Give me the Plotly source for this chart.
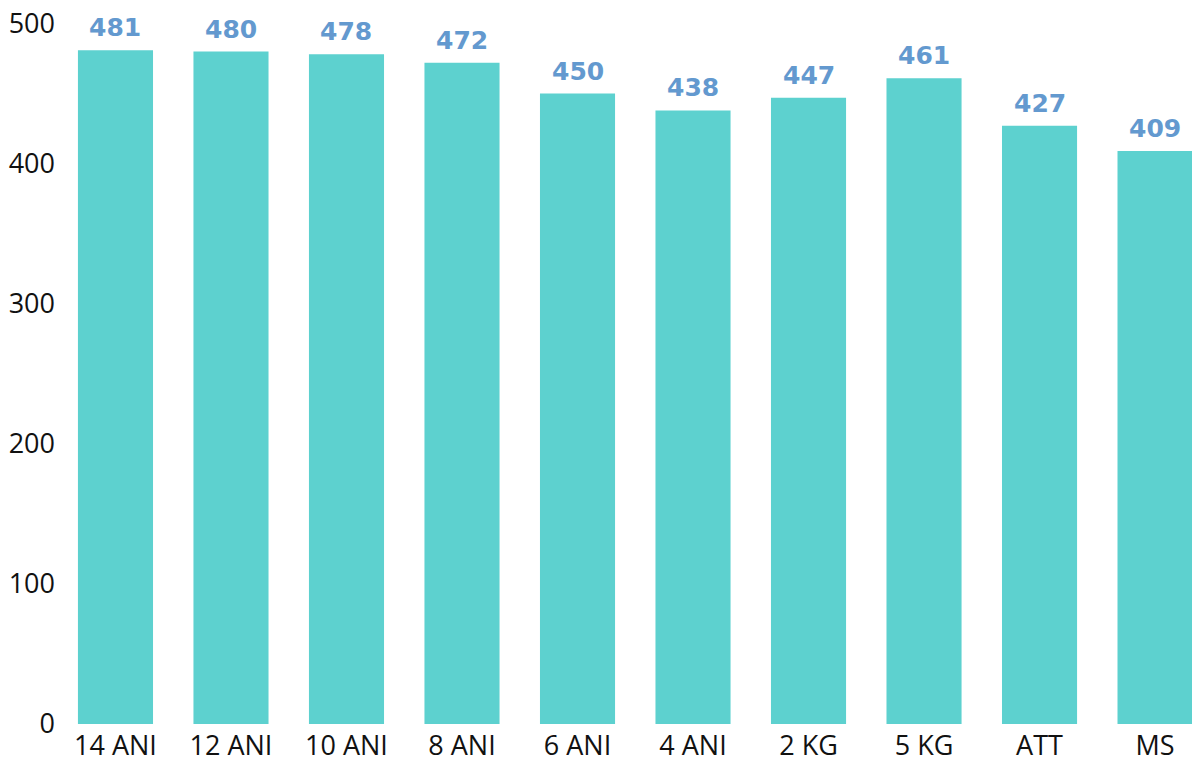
import plotly.graph_objects as go

categories = ["14 ANI", "12 ANI", "10 ANI", "8 ANI", "6 ANI", "4 ANI", "2 KG", "5 KG", "ATT", "MS"]
values = [481, 480, 478, 472, 450, 438, 447, 461, 427, 409]
y_ticks = [0, 100, 200, 300, 400, 500]

bar_color = "#5DD1CF"
label_color = "#6399CF"
tick_font = dict(family="Open Sans", size=27, color="#111111")

fig = go.Figure()
fig.add_trace(go.Bar(
    x=list(range(len(categories))),
    y=values,
    marker=dict(color=bar_color, line=dict(width=0)),
    width=0.65,
    hoverinfo="skip",
))

for i, v in enumerate(values):
    fig.add_annotation(
        x=i, y=v, text=str(v), showarrow=False,
        xanchor="center", yanchor="bottom", yshift=6,
        font=dict(family="DejaVu Sans", size=25, color=label_color, weight="bold"),
    )

fig.update_layout(
    width=1192, height=762,
    margin=dict(l=62, r=0, t=0, b=38),
    paper_bgcolor="white", plot_bgcolor="white",
    showlegend=False,
    font=tick_font,
    xaxis=dict(
        range=[-0.463, 9.32],
        tickmode="array",
        tickvals=list(range(len(categories))),
        ticktext=categories,
        showgrid=False, zeroline=False, showline=False,
        tickfont=tick_font,
        ticks="", ticklen=0,
        ticklabelstandoff=3,
        automargin=False,
    ),
    yaxis=dict(
        range=[0, 516.8],
        tickmode="array",
        tickvals=y_ticks,
        showgrid=False, zeroline=False, showline=False,
        tickfont=tick_font,
        ticks="", ticklen=0,
        ticklabelstandoff=6,
        automargin=False,
    ),
)

fig.write_html("out.html")
